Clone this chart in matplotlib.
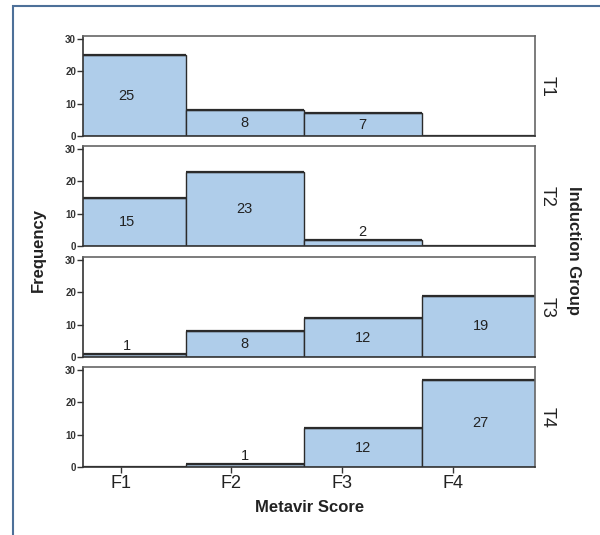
import numpy as np
import matplotlib.pyplot as plt
from matplotlib.patches import Rectangle

plt.rcParams['font.family'] = ['Liberation Sans', 'DejaVu Sans']

# metavir score categories and counts per induction group
scores = ['F1', 'F2', 'F3', 'F4']
groups = ['T1', 'T2', 'T3', 'T4']
t1 = [25, 8, 7, 0]
t2 = [15, 23, 2, 0]
t3 = [1, 8, 12, 19]
t4 = [0, 1, 12, 27]
counts = [t1, t2, t3, t4]
yticks = [0, 10, 20, 30]

fill = '#afcdea'
edge = '#2b2b2b'
frame = '#666666'

fig = plt.figure(figsize=(6.0, 5.35), dpi=100)
W, H = 600, 535

# outer blue frame of the figure panel
fig.patches.append(Rectangle((13 / W, -0.05), 1.2, 1 - 6 / H + 0.05,
                             transform=fig.transFigure, fill=False,
                             edgecolor='#4d7099', linewidth=1.5))

left, right = 83, 535
tops = [36, 146, 257, 367]
ph = 100
bw = 1.066                      # bar width in tick units (SPSS offset bins)
x0 = -0.48
for k, (g, vals) in enumerate(zip(groups, counts)):
    ax = fig.add_axes([left / W, 1 - (tops[k] + ph) / H,
                       (right - left) / W, ph / H])
    lefts = x0 + np.arange(len(scores)) * bw
    ax.bar(lefts, vals, width=bw, align='edge', color=fill,
           edgecolor=edge, linewidth=1.0)
    ax.hlines(vals, lefts, lefts + bw, color=edge, linewidth=1.6)
    for xl, v in zip(lefts, vals):
        if v == 0:
            continue
        if v < 5:
            ax.text(xl + bw / 2, v + 0.3, str(v), ha='center', va='bottom',
                    fontsize=10.5, color='#222222')
        else:
            ax.text(xl + bw / 2, v / 2, str(v), ha='center', va='center',
                    fontsize=10.5, color='#222222')
    ax.set_xlim(-0.34, 3.74)
    ax.set_ylim(0, 31)
    ax.set_yticks(yticks)
    ax.set_yticklabels([str(t) for t in yticks], fontsize=7,
                       fontweight='bold', color='#333333')
    ax.tick_params(axis='y', length=4, width=1, color='#333333', pad=1)
    for s in ax.spines.values():
        s.set_color(frame)
        s.set_linewidth(1.2)
    ax.spines['left'].set_color('#333333')
    ax.spines['bottom'].set_color('#333333')
    ax.set_xticks(range(len(scores)))
    if k < 3:
        ax.tick_params(axis='x', length=0, labelbottom=False)
    else:
        ax.set_xticklabels(scores, fontsize=13, color='#222222')
        ax.tick_params(axis='x', length=4, width=1, color='#333333', pad=2)
    ax.text(1.027, 0.5, g, transform=ax.transAxes, rotation=-90,
            ha='center', va='center', fontsize=13, color='#222222')

fig.text(38 / W, 1 - 250 / H, 'Frequency', rotation=90, ha='center',
         va='center', fontsize=12, fontweight='bold', color='#222222')
fig.text(574 / W, 1 - 250 / H, 'Induction Group', rotation=-90,
         ha='center', va='center', fontsize=12, fontweight='bold',
         color='#222222')
fig.text(310 / W, 1 - 508 / H, 'Metavir Score', ha='center', va='center',
         fontsize=12, fontweight='bold', color='#222222')

fig.savefig('out.png', dpi=100)
